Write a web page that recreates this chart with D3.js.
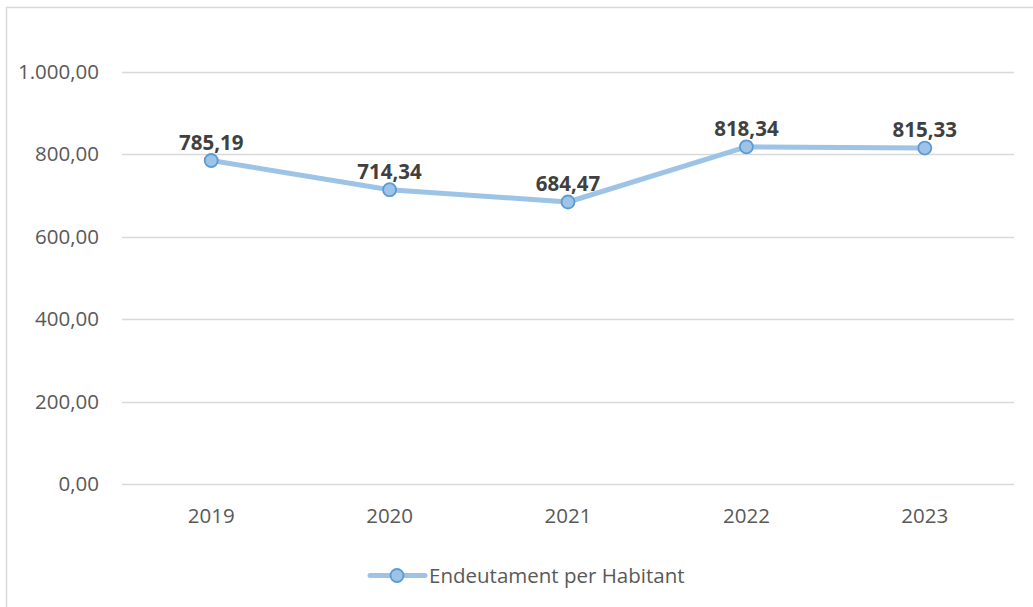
<!DOCTYPE html>
<html><head><meta charset="utf-8">
<script src="https://cdn.jsdelivr.net/npm/d3@7"></script>
<style>body{margin:0;background:#fff;} svg{display:block;}</style>
</head><body>
<svg id="chart" width="1033" height="607"></svg>
<script>
const categories = ["2019","2020","2021","2022","2023"];
const values = [785.19, 714.34, 684.47, 818.34, 815.33];
const yTicks = [0, 200, 400, 600, 800, 1000];
const seriesName = "Endeutament per Habitant";

(function(){
const svg = d3.select("#chart");
const font = "'Open Sans', 'Noto Sans', sans-serif";
const fs = 20.5;
const fmt = v => {
  const parts = v.toFixed(2).split(".");
  parts[0] = parts[0].replace(/\B(?=(\d{3})+(?!\d))/g, ".");
  return parts[0] + "," + parts[1];
};

svg.append("rect").attr("x",6.5).attr("y",7.5).attr("width",1040).attr("height",620)
  .attr("fill","#fff").attr("stroke","#d9d9d9").attr("stroke-width",1.5);

const mLeft = 122, mRight = 1014, mTop = 72, mBottom = 484;
const x = d3.scaleBand().domain(categories).range([mLeft,mRight]);
const y = d3.scaleLinear().domain([0,1000]).range([mBottom,mTop]);

const grid = svg.append("g");
grid.selectAll("line").data(yTicks).join("line")
  .attr("x1",mLeft).attr("x2",mRight)
  .attr("y1",d=>Math.round(y(d))+0.5).attr("y2",d=>Math.round(y(d))+0.5)
  .attr("stroke","#d9d9d9").attr("stroke-width",1.3);

const yAxis = d3.axisLeft(y).tickValues(yTicks).tickFormat(fmt).tickSize(0).tickPadding(0);
const ya = svg.append("g").attr("transform",`translate(99,0)`).call(yAxis);
ya.select(".domain").remove();
ya.selectAll("text").attr("font-family",font).attr("font-size",fs).attr("fill","#595959");

const xAxis = d3.axisBottom(x).tickSize(0).tickPadding(0);
const xa = svg.append("g").attr("transform",`translate(0,${mBottom+24})`).call(xAxis);
xa.select(".domain").remove();
xa.selectAll("text").attr("font-family",font).attr("font-size",fs).attr("fill","#595959").attr("dy","0.71em");

const cx = d => x(d) + x.bandwidth()/2;
const data = categories.map((c,i)=>({c, v: values[i]}));

svg.append("path").datum(data)
  .attr("d", d3.line().x(d=>cx(d.c)).y(d=>y(d.v)))
  .attr("fill","none").attr("stroke","#9dc3e6").attr("stroke-width",5).attr("stroke-linejoin","round");

svg.selectAll("circle.pt").data(data).join("circle").attr("class","pt")
  .attr("cx",d=>cx(d.c)).attr("cy",d=>y(d.v)).attr("r",6.5)
  .attr("fill","#9dc3e6").attr("stroke","#5b9bd5").attr("stroke-width",1.8);

svg.selectAll("text.lbl").data(data).join("text").attr("class","lbl")
  .attr("x",d=>cx(d.c)).attr("y",d=>y(d.v)-11)
  .attr("text-anchor","middle").attr("font-family",font).attr("font-size",fs)
  .attr("font-weight","bold").attr("fill","#404040").text(d=>fmt(d.v));

const lg = svg.append("g");
lg.append("line").attr("x1",370).attr("x2",425).attr("y1",575.5).attr("y2",575.5)
  .attr("stroke","#9dc3e6").attr("stroke-width",5).attr("stroke-linecap","round");
lg.append("circle").attr("cx",397).attr("cy",575.5).attr("r",6.5)
  .attr("fill","#9dc3e6").attr("stroke","#5b9bd5").attr("stroke-width",1.8);
lg.append("text").attr("x",429).attr("y",575.5).attr("dy","0.35em")
  .attr("font-family",font).attr("font-size",fs).attr("fill","#595959").text(seriesName);
})();
</script>
</body></html>
